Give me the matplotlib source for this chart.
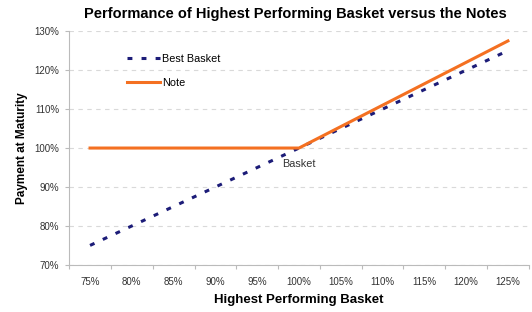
import numpy as np
import matplotlib.pyplot as plt
from matplotlib.ticker import FuncFormatter

plt.rcParams['font.family'] = ['Liberation Sans', 'DejaVu Sans']

# data
baskets = ["75%", "80%", "85%", "90%", "95%", "100%", "105%", "110%", "115%", "120%", "125%"]
best_basket = [75, 80, 85, 90, 95, 100, 105, 110, 115, 120, 125]
note = [100, 100, 100, 100, 100, 100, 105.5, 111, 116.5, 122, 127.5]
y_ticks = [70, 80, 90, 100, 110, 120, 130]

fig = plt.figure(figsize=(5.32, 3.12), dpi=100)
ax = fig.add_axes([0.130, 0.151, 0.864, 0.749])

x = np.arange(len(baskets))
ax.plot(x, best_basket, color='#1c1c78', lw=2.2, linestyle=(0, (1.6, 3.0)),
        label='Best Basket', zorder=3)
ax.plot(x, note, color='#f47021', lw=2.2, label='Note', zorder=4)

ax.set_xlim(-0.5, len(baskets) - 0.5)
ax.set_ylim(70, 130)
ax.set_yticks(y_ticks)
ax.yaxis.set_major_formatter(FuncFormatter(lambda v, p: f"{v:.0f}%"))
ax.set_xticks(x)
ax.set_xticklabels(baskets)
ax.set_xticks(np.arange(-0.5, len(baskets)), minor=True)
ax.tick_params(axis='x', which='major', length=0, pad=9, labelsize=7, labelcolor='#333333')
ax.tick_params(axis='x', which='minor', length=3, color='#bbbbbb', width=0.8)
ax.tick_params(axis='y', length=3, color='#bbbbbb', width=0.8, labelsize=7,
               labelcolor='#333333', pad=4)

ax.grid(axis='y', color='#d9d9d9', linestyle=(0, (4, 4)), lw=0.8)
ax.set_axisbelow(True)
for s in ['top', 'right']:
    ax.spines[s].set_visible(False)
for s in ['left', 'bottom']:
    ax.spines[s].set_color('#bbbbbb')
    ax.spines[s].set_linewidth(0.8)

ax.text(5.0, 96.0, "Basket", fontsize=7.8, color='#333333', ha='center', va='center')

ax.legend(loc='upper left', bbox_to_anchor=(0.105, 0.945), frameon=False, fontsize=7.8,
          handlelength=3.0, handletextpad=0.2, labelspacing=1.3)

fig.suptitle("Performance of Highest Performing Basket versus the Notes",
             fontsize=10.5, fontweight='bold', x=0.556, y=0.978)
ax.set_xlabel("Highest Performing Basket", fontsize=9.5, fontweight='bold', labelpad=5)
ax.set_ylabel("Payment at Maturity", fontsize=8.5, fontweight='bold', labelpad=5)

fig.savefig("out.png", dpi=100)
